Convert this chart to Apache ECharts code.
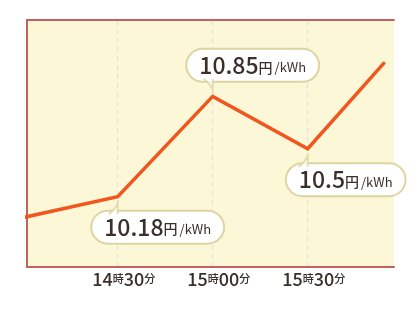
<!DOCTYPE html>
<html>
<head>
<meta charset="utf-8">
<script src="https://cdn.jsdelivr.net/npm/echarts@6/dist/echarts.min.js"></script>
<style>
html,body{margin:0;padding:0;background:#fff;}
#c{width:420px;height:310px;}
</style>
</head>
<body>
<div id="c"></div>
<script>
// ---- data ----
const timeMinutes = [0, 30, 60, 90, 114];          // minutes after 14:00
const prices = [10.04, 10.18, 10.85, 10.5, 11.07]; // 円/kWh
const tickMinutes = [30, 60, 90];
const tickLabels = ['14時30分', '15時00分', '15時30分'];
const labeledIndex = [1, 2, 3];
const unitYen = '円';
const unitKwh = '/kWh';

// ---- styles (not data) ----
const labelOffsets = { 1: [40, 30.5], 2: [40, -31], 3: [38, 31] };
const tailOffsets = { 1: [-4.5, 12], 2: [-4.5, -12], 3: [-4.5, 12.5] };
const tailDown = 'path://M0,0 Q7,5 10,12 L10,0';
const tailUp = 'path://M0,12 Q7,7 10,0 L10,12';
const tailShape = { 1: tailUp, 2: tailDown, 3: tailUp };

const RED = '#c2625e';
const FONT = '"Noto Sans CJK JP", "Noto Sans", sans-serif';
const TXT = '#3a302b';

const lineData = timeMinutes.map((t, i) => {
  const item = { value: [t, prices[i]] };
  if (labeledIndex.includes(i)) {
    item.label = { show: true, offset: labelOffsets[i] };
  }
  return item;
});
const tailData = labeledIndex.map(i => ({
  value: [timeMinutes[i], prices[i]],
  symbol: tailShape[i],
  symbolOffset: tailOffsets[i]
}));

const chart = echarts.init(document.getElementById('c'), null, { renderer: 'canvas' });
chart.setOption({
  animation: false,
  backgroundColor: '#ffffff',
  grid: {
    left: 27, right: 26, top: 20, bottom: 43,
    show: true, backgroundColor: '#fcf7d7', borderWidth: 0
  },
  xAxis: [{
    type: 'value',
    min: 1.36, max: 117.25,
    axisLine: { show: true, onZero: false, lineStyle: { color: RED, width: 2 } },
    axisTick: { show: false, customValues: tickMinutes },
    splitLine: { show: true, lineStyle: { color: '#e4e0dc', width: 1.2, type: [5, 4] } },
    axisLabel: {
      customValues: tickMinutes,
      margin: 3,
      padding: [0, 0, 0, 12],
      formatter: (val) => {
        const i = tickMinutes.indexOf(val);
        if (i < 0) return '';
        return tickLabels[i].replace(/(\d+)|(\D+)/g, (m, d, k) => d ? '{n|' + d + '}' : '{k|' + k + '}');
      },
      rich: {
        n: { fontSize: 18, fontFamily: FONT, fontWeight: 500, color: TXT },
        k: { fontSize: 11, fontFamily: FONT, fontWeight: 500, color: TXT }
      }
    }
  }, {
    type: 'value', position: 'top',
    min: 1.36, max: 117.25,
    axisLine: { show: true, onZero: false, lineStyle: { color: RED, width: 2 } },
    axisTick: { show: false }, axisLabel: { show: false }, splitLine: { show: false }
  }],
  yAxis: {
    type: 'value',
    min: 9.71, max: 11.36,
    axisLine: { show: true, onZero: false, lineStyle: { color: RED, width: 2 } },
    axisTick: { show: false }, axisLabel: { show: false }, splitLine: { show: false }
  },
  series: [{
    type: 'line',
    z: 2,
    data: lineData,
    symbol: 'circle',
    symbolSize: 0,
    showSymbol: true,
    clip: true,
    lineStyle: { color: '#f0561e', width: 3.5, cap: 'round', join: 'miter' },
    itemStyle: { color: '#f0561e' },
    label: {
      show: false,
      position: 'inside',
      backgroundColor: '#ffffff',
      borderColor: '#dcd5a2',
      borderWidth: 2,
      borderRadius: 16,
      padding: [2, 12, 2, 12],
      formatter: (p) => '{v|' + p.value[1] + '}{u|' + unitYen + '}{s|' + unitKwh + '}',
      rich: {
        v: { fontSize: 23, fontFamily: FONT, fontWeight: 500, color: TXT, lineHeight: 27 },
        u: { fontSize: 14, fontFamily: FONT, fontWeight: 500, color: TXT, padding: [4, 0, 0, 0] },
        s: { fontSize: 13, fontFamily: FONT, color: TXT, padding: [4, 0, 0, 2] }
      }
    }
  }, {
    type: 'scatter',
    z: 10,
    data: tailData,
    symbolSize: [9, 11],
    itemStyle: { color: '#ffffff', borderColor: '#dcd5a2', borderWidth: 2 },
    silent: true
  }]
});
</script>
</body>
</html>
